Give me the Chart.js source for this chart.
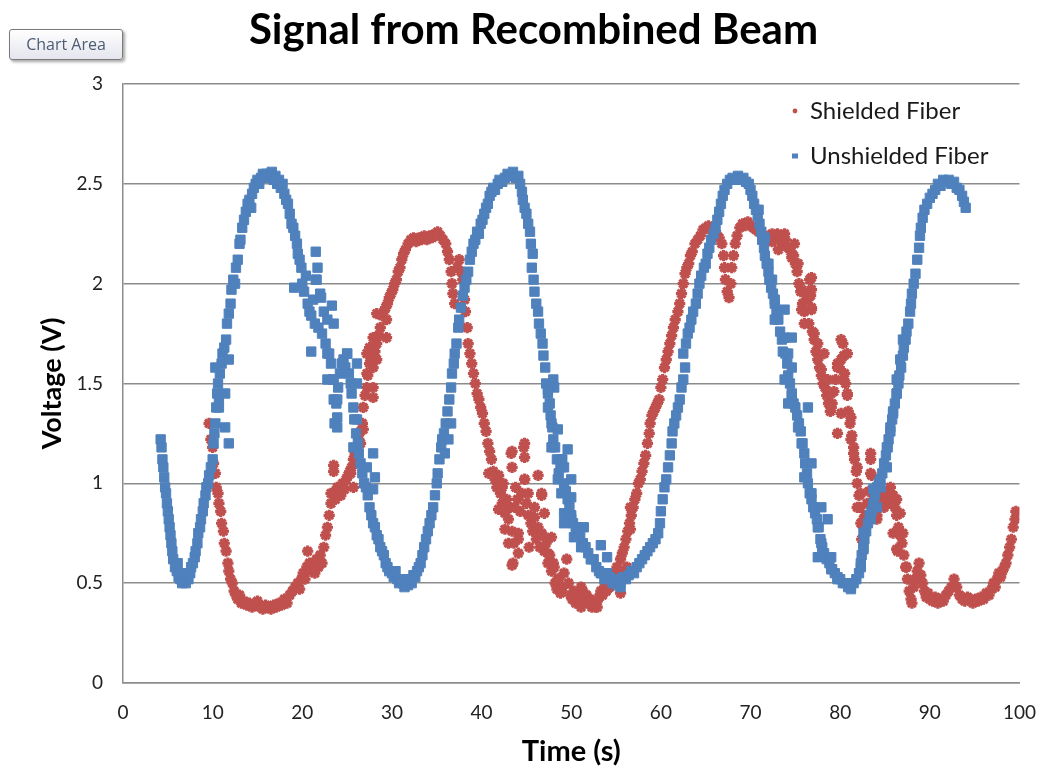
<!DOCTYPE html>
<html>
<head>
<meta charset="utf-8">
<script src="https://cdn.jsdelivr.net/npm/chart.js@4.4.1/dist/chart.umd.min.js"></script>
<style>
  html, body { margin: 0; padding: 0; background: #fff; }
  #wrap { position: relative; width: 1054px; height: 772px; }
  #tip {
    position: absolute; left: 9px; top: 29px; width: 112px; height: 29px;
    border: 1px solid #7a7a7a; border-radius: 3px;
    background: linear-gradient(#ffffff, #e4e5ee);
    box-shadow: 2px 2px 3px rgba(0,0,0,0.35);
    font: 16px "Open Sans", sans-serif; color: #4d5c73;
    line-height: 29px; text-align: center;
  }
</style>
</head>
<body>
<div id="wrap">
  <canvas id="myChart" width="1054" height="772"></canvas>
  <div id="tip">Chart Area</div>
</div>
<script>
// [time (s), voltage (V)]
const unshielded = [
  [4.2,1.22],[4.3,1.18],[4.4,1.12],[4.5,1.08],[4.6,1.03],[4.7,0.98],[4.8,0.95],[4.9,0.9],[5.0,0.86],[5.1,0.82],
  [5.2,0.78],[5.3,0.74],[5.4,0.7],[5.5,0.66],[5.6,0.62],[5.8,0.58],[6.0,0.56],[6.1,0.6],[6.2,0.53],[6.4,0.52],
  [6.5,0.55],[6.6,0.5],[6.8,0.51],[7.0,0.5],[7.1,0.54],[7.3,0.52],[7.5,0.55],[7.6,0.58],[7.8,0.6],[8.0,0.63],
  [8.1,0.66],[8.3,0.7],[8.4,0.75],[8.6,0.78],[8.7,0.82],[8.9,0.86],[9.0,0.9],[9.2,0.94],[9.3,0.98],[9.5,1.0],
  [9.6,1.04],[9.8,1.08],[10.0,1.12],[10.1,1.2],[10.2,1.25],[10.3,1.3],[10.4,1.38],[10.5,1.45],[10.6,1.5],[10.7,1.42],
  [10.8,1.55],[11.0,1.6],[11.1,1.65],[11.3,1.68],[11.5,1.72],[11.6,1.8],[11.8,1.85],[12.0,1.9],[12.1,1.97],[12.3,2.02],
  [12.5,2.0],[12.6,2.08],[12.8,2.12],[13.0,2.2],[13.1,2.22],[13.3,2.28],[13.5,2.32],[13.7,2.36],[13.9,2.4],[14.1,2.42],
  [14.3,2.38],[14.4,2.45],[14.6,2.48],[14.8,2.5],[15.0,2.52],[15.2,2.5],[15.4,2.53],[15.6,2.55],[15.8,2.54],[16.0,2.55],
  [16.2,2.53],[16.4,2.55],[16.6,2.56],[16.8,2.52],[17.0,2.54],[17.2,2.5],[17.4,2.52],[17.6,2.48],[17.8,2.5],[18.0,2.45],
  [18.2,2.42],[18.4,2.4],[18.6,2.35],[18.8,2.3],[19.0,2.28],[19.2,2.24],[19.4,2.2],[19.5,2.15],[19.7,2.12],[19.9,2.08],
  [20.0,2.0],[20.2,1.96],[20.4,2.04],[20.6,1.9],[20.8,1.86],[21.0,1.84],[21.2,1.92],[21.4,1.8],[21.6,2.02],[21.8,1.78],
  [22.0,1.95],[22.2,1.75],[22.4,1.86],[22.6,1.7],[22.8,1.82],[23.0,1.65],[23.2,1.6],[23.4,1.52],[23.5,1.42],[23.6,1.3],
  [23.8,1.4],[24.0,1.48],[24.2,1.55],[24.4,1.6],[24.6,1.62],[24.8,1.58],[25.0,1.65],[25.2,1.55],[25.4,1.5],[25.5,1.45],
  [25.7,1.38],[25.8,1.32],[26.0,1.25],[26.2,1.2],[26.3,1.15],[26.5,1.1],[26.7,1.05],[26.9,1.0],[27.1,0.98],[27.3,0.94],
  [27.5,0.88],[27.7,0.84],[27.9,0.8],[28.1,0.78],[28.3,0.74],[28.5,0.72],[28.7,0.68],[28.9,0.66],[29.1,0.64],[29.3,0.6],
  [29.5,0.58],[29.7,0.56],[30.0,0.55],[30.2,0.53],[30.4,0.56],[30.6,0.52],[30.8,0.5],[31.0,0.52],[31.2,0.5],[31.4,0.48],
  [31.6,0.51],[31.8,0.49],[32.0,0.52],[32.2,0.5],[32.4,0.54],[32.6,0.53],[32.8,0.56],[33.0,0.58],[33.2,0.6],[33.4,0.64],
  [33.6,0.68],[33.8,0.72],[34.0,0.76],[34.2,0.8],[34.4,0.84],[34.6,0.88],[34.8,0.94],[35.0,1.0],[35.1,1.05],[35.3,1.12],
  [35.5,1.18],[35.6,1.22],[35.8,1.25],[36.0,1.3],[36.2,1.36],[36.4,1.42],[36.6,1.48],[36.7,1.55],[36.9,1.6],[37.0,1.65],
  [37.2,1.7],[37.4,1.78],[37.5,1.82],[37.7,1.88],[37.9,1.94],[38.1,1.98],[38.3,2.02],[38.5,2.06],[38.7,2.12],[38.9,2.16],
  [39.1,2.2],[39.3,2.22],[39.5,2.26],[39.7,2.25],[39.9,2.3],[40.1,2.32],[40.3,2.35],[40.5,2.38],[40.7,2.4],[40.9,2.44],
  [41.1,2.46],[41.3,2.48],[41.5,2.47],[41.8,2.5],[42.0,2.52],[42.3,2.51],[42.6,2.53],[42.9,2.55],[43.2,2.54],[43.5,2.56],
  [43.8,2.53],[44.1,2.54],[44.3,2.5],[44.5,2.46],[44.6,2.42],[44.8,2.38],[45.0,2.35],[45.2,2.3],[45.4,2.26],[45.5,2.2],
  [45.7,2.15],[45.6,2.08],[45.8,2.02],[45.9,1.96],[46.1,1.9],[46.3,1.86],[46.4,1.8],[46.6,1.75],[46.8,1.7],[46.9,1.64],
  [47.1,1.58],[47.2,1.5],[47.4,1.45],[47.6,1.4],[47.7,1.34],[48.0,1.52],[48.1,1.48],[47.9,1.28],[48.0,1.22],[48.2,1.18],
  [48.4,1.12],[48.6,1.05],[48.8,1.08],[49.0,1.12],[49.2,1.0],[49.4,0.96],[49.6,0.92],[49.8,0.88],[50.0,0.84],[50.2,0.8],
  [50.5,0.78],[50.8,0.76],[51.0,0.74],[51.3,0.7],[51.6,0.68],[51.9,0.65],[52.2,0.62],[52.5,0.62],[52.8,0.58],[53.1,0.56],
  [53.4,0.55],[53.7,0.52],[54.0,0.55],[54.3,0.53],[54.6,0.5],[54.9,0.52],[55.2,0.49],[55.5,0.5],[55.8,0.53],[56.1,0.52],
  [56.4,0.54],[56.7,0.56],[57.0,0.55],[57.3,0.58],[57.6,0.6],[57.9,0.62],[58.2,0.64],[58.5,0.66],[58.8,0.68],[59.1,0.7],
  [59.4,0.72],[59.7,0.75],[59.9,0.8],[60.0,0.86],[60.2,0.92],[60.4,0.98],[60.6,1.02],[60.8,1.08],[61.0,1.14],[61.2,1.2],
  [61.3,1.26],[61.5,1.3],[61.7,1.34],[61.9,1.38],[62.1,1.42],[62.3,1.48],[62.5,1.52],[62.7,1.58],[62.5,1.65],[62.8,1.7],
  [63.0,1.75],[63.2,1.78],[63.4,1.82],[63.6,1.86],[63.9,1.9],[64.1,1.95],[64.3,2.0],[64.5,2.04],[64.8,2.08],[65.0,2.1],
  [65.2,2.15],[65.4,2.18],[65.6,2.22],[65.9,2.25],[66.1,2.28],[66.3,2.32],[66.5,2.36],[66.7,2.4],[66.9,2.44],[67.1,2.47],
  [67.4,2.5],[67.7,2.52],[68.0,2.53],[68.3,2.52],[68.6,2.54],[68.9,2.52],[69.2,2.53],[69.5,2.51],[69.8,2.5],[70.0,2.47],
  [70.2,2.44],[70.4,2.4],[70.6,2.37],[70.8,2.34],[71.0,2.3],[71.2,2.26],[71.3,2.22],[71.5,2.18],[71.6,2.14],[71.8,2.1],
  [72.0,2.06],[72.1,2.02],[72.3,1.98],[72.5,1.95],[72.7,1.9],[72.9,1.86],[73.1,1.82],[73.3,1.76],[73.5,1.72],[73.6,1.66],
  [73.9,1.65],[74.1,1.6],[74.2,1.54],[74.4,1.5],[74.6,1.44],[74.8,1.4],[75.0,1.38],[75.2,1.34],[75.4,1.3],[75.6,1.26],
  [75.8,1.2],[76.0,1.15],[76.1,1.1],[76.3,1.05],[76.4,1.0],[76.6,0.95],[76.8,0.92],[77.0,0.88],[77.2,0.85],[77.4,0.82],
  [77.6,0.78],[77.8,0.72],[78.0,0.68],[78.2,0.65],[78.5,0.62],[78.8,0.6],[79.1,0.57],[79.4,0.55],[79.7,0.53],[80.0,0.52],
  [80.3,0.5],[80.6,0.5],[80.9,0.48],[81.2,0.47],[81.5,0.5],[81.8,0.52],[82.1,0.55],[82.3,0.6],[82.4,0.64],[82.6,0.68],
  [82.7,0.72],[82.9,0.76],[83.1,0.8],[83.3,0.84],[83.5,0.86],[83.7,0.9],[83.9,0.94],[84.1,0.98],[84.3,1.0],[84.5,1.02],
  [84.7,1.05],[84.9,1.1],[85.1,1.14],[85.3,1.18],[85.4,1.22],[85.6,1.26],[85.8,1.32],[85.9,1.36],[86.1,1.4],[86.3,1.45],
  [86.5,1.5],[86.6,1.54],[86.8,1.58],[87.0,1.64],[87.1,1.68],[87.3,1.72],[87.4,1.76],[87.6,1.8],[87.8,1.86],[87.9,1.9],
  [88.0,1.95],[88.2,2.0],[88.4,2.05],[88.6,2.12],[88.8,2.18],[88.9,2.24],[89.0,2.28],[89.2,2.33],[89.4,2.37],[89.7,2.4],
  [90.0,2.43],[90.3,2.45],[90.6,2.47],[90.9,2.5],[91.2,2.49],[91.5,2.52],[91.8,2.51],[92.1,2.52],[92.4,2.5],[92.7,2.51],
  [93.0,2.48],[93.3,2.47],[93.6,2.44],[93.8,2.41],[94.0,2.38],
  // scattered points off the main band
  [10.3,1.58],[11.8,1.62],[11.4,1.45],[10.7,1.38],[11.4,1.28],[11.8,1.2],
  [21.5,2.16],[21.7,2.08],[21.5,2.02],[19.1,1.98],[22.1,1.93],[23.3,1.89],[23.5,1.8],[21.0,1.66],[22.8,1.65],
  [25.0,1.65],[26.1,1.6],[22.8,1.52],[23.5,1.52],[26.1,1.5],[23.9,1.42],[23.9,1.33],[23.9,1.28],[26.1,1.32],
  [25.7,1.18],[27.9,1.15],[27.2,1.08],[28.1,1.03],[27.9,0.97],
  [35.9,1.15],[36.3,1.22],[36.6,1.3],
  [47.4,1.47],[47.4,1.38],[47.8,1.3],[48.5,1.27],[47.8,1.18],[49.6,1.17],[48.9,1.12],[49.2,1.08],[48.5,1.02],
  [50.0,1.02],[48.9,0.95],[50.0,0.93],[49.2,0.85],[50.0,0.82],[49.2,0.8],[51.4,0.78],[50.3,0.73],[53.3,0.69],
  [51.1,0.68],[52.2,0.62],[54.0,0.63],[53.3,0.55],[55.1,0.52],[55.5,0.48],
  [70.9,2.37],[71.6,2.23],[72.0,2.1],[72.4,2.02],[72.7,1.92],[73.8,1.87],[72.7,1.82],[73.8,1.73],[74.6,1.73],
  [74.2,1.65],[74.6,1.58],[73.8,1.52],[74.6,1.45],[74.2,1.4],[76.4,1.38],[75.3,1.28],[75.7,1.2],[76.8,1.1],
  [76.0,1.03],[76.8,0.95],[77.9,0.88],[77.5,0.78],[78.6,0.82],[77.9,0.7],[77.5,0.63],[79.0,0.63],[79.0,0.57],
  [79.7,0.52],[81.2,0.48],[82.3,0.58],[82.6,0.67],[82.6,0.75],[83.4,0.82],[84.1,0.88],[83.7,0.97],[84.5,0.98],
  [85.2,1.08],[85.2,1.18],[85.6,1.28],[85.9,1.35],[86.3,1.45],[86.3,1.52],[86.7,1.62],[87.0,1.72]
];

const shielded = [
  [9.6,1.3],[9.8,1.22],[10.0,1.18],[10.1,1.1],[10.3,1.05],[10.4,0.98],[10.6,0.95],[10.7,0.9],[10.9,0.86],[11.0,0.8],
  [11.2,0.76],[11.3,0.7],[11.5,0.66],[11.7,0.6],[11.8,0.56],[12.0,0.52],[12.2,0.5],[12.4,0.46],[12.6,0.44],[12.8,0.42],
  [13.0,0.44],[13.2,0.4],[13.5,0.41],[13.8,0.39],[14.1,0.4],[14.4,0.38],[14.7,0.39],[15.0,0.41],[15.3,0.38],[15.6,0.37],
  [15.9,0.39],[16.2,0.38],[16.5,0.37],[16.8,0.39],[17.1,0.38],[17.4,0.4],[17.7,0.39],[18.0,0.42],[18.3,0.4],[18.6,0.44],
  [18.9,0.46],[19.2,0.48],[19.5,0.5],[19.7,0.47],[19.9,0.52],[20.1,0.55],[20.3,0.52],[20.5,0.58],[20.6,0.66],[20.8,0.6],
  [21.0,0.56],[21.2,0.6],[21.4,0.55],[21.6,0.62],[21.8,0.58],[22.0,0.64],[22.2,0.6],[22.4,0.68],[22.6,0.74],[22.8,0.78],
  [23.0,0.84],[23.2,0.9],[23.4,0.95],[23.5,1.06],[23.7,0.92],[23.9,0.96],[24.1,0.98],[24.3,0.94],[24.5,1.0],[24.7,0.97],
  [24.9,1.02],[25.1,1.04],[25.3,1.06],[25.5,1.08],[25.7,1.12],[25.9,1.15],[26.1,1.18],[26.3,1.22],[26.5,1.26],[26.7,1.3],
  [26.8,1.38],[27.0,1.44],[27.2,1.48],[27.3,1.54],[27.5,1.6],[27.5,1.68],[27.7,1.62],[27.9,1.58],[28.1,1.66],[28.3,1.7],
  [28.5,1.74],[28.7,1.78],[28.9,1.84],[29.1,1.86],[29.3,1.88],[29.5,1.9],[29.7,1.93],[29.9,1.95],[30.1,1.97],[30.3,2.0],
  [30.5,2.02],[30.7,2.06],[30.9,2.08],[31.1,2.12],[31.3,2.15],[31.5,2.17],[31.8,2.2],[32.1,2.22],[32.4,2.23],[32.7,2.21],
  [33.0,2.23],[33.3,2.22],[33.6,2.24],[33.9,2.22],[34.2,2.24],[34.5,2.23],[34.8,2.25],[35.1,2.26],[35.4,2.24],[35.7,2.22],
  [36.0,2.2],[36.2,2.16],[36.4,2.12],[36.6,2.06],[36.7,2.0],[36.8,1.95],[37.0,1.9],[37.3,2.08],[37.5,2.12],[37.7,2.06],
  [37.9,2.02],[38.1,1.92],[38.2,1.86],[38.4,1.78],[38.5,1.7],[38.7,1.65],[38.9,1.6],[39.1,1.55],[39.3,1.5],[39.5,1.45],
  [39.7,1.42],[39.9,1.38],[40.1,1.35],[40.3,1.3],[40.5,1.26],[40.7,1.2],[40.9,1.16],[41.1,1.12],[41.3,1.06],[41.5,1.02],
  [41.7,0.98],[41.9,1.04],[42.1,0.95],[42.3,0.9],[42.4,1.0],[42.6,0.85],[42.8,0.92],[43.0,0.82],[43.2,0.88],[43.3,1.15],
  [43.4,0.76],[43.5,0.6],[43.6,0.7],[43.8,0.98],[44.0,0.92],[44.1,0.72],[44.3,0.86],[44.5,0.95],[44.7,1.18],[44.8,1.02],
  [45.0,0.9],[45.2,0.84],[45.3,0.68],[45.5,0.8],[45.7,0.76],[45.9,0.88],[46.1,0.72],[46.3,0.78],[46.5,0.68],[46.7,0.94],
  [46.8,0.74],[47.0,0.66],[47.2,0.7],[47.4,0.6],[47.6,0.64],[47.8,0.56],[48.0,0.6],[48.2,0.5],[48.4,0.47],[48.6,0.52],
  [48.8,0.45],[49.0,0.48],[49.2,0.55],[49.5,0.62],[49.7,0.5],[49.9,0.44],[50.1,0.42],[50.3,0.46],[50.5,0.4],[50.7,0.42],
  [50.9,0.44],[51.1,0.48],[51.3,0.46],[51.5,0.42],[51.7,0.44],[51.9,0.4],[52.1,0.42],[52.3,0.38],[52.5,0.4],[52.7,0.38],
  [52.9,0.41],[53.1,0.43],[53.3,0.46],[53.5,0.44],[53.7,0.48],[53.9,0.46],[54.1,0.5],[54.3,0.48],[54.5,0.52],[54.7,0.5],
  [54.9,0.55],[55.1,0.58],[55.3,0.56],[55.5,0.62],[55.7,0.65],[55.9,0.68],[56.1,0.72],[56.3,0.76],[56.5,0.8],[56.7,0.84],
  [56.9,0.88],[57.1,0.92],[57.3,0.95],[57.5,1.0],[57.7,1.02],[57.9,1.06],[58.1,1.1],[58.3,1.14],[58.5,1.2],[58.7,1.25],
  [58.8,1.3],[59.0,1.34],[59.2,1.36],[59.4,1.38],[59.6,1.4],[59.8,1.42],[60.0,1.48],[60.2,1.52],[60.4,1.58],[60.6,1.62],
  [60.8,1.66],[61.0,1.7],[61.2,1.74],[61.4,1.78],[61.6,1.82],[61.9,1.86],[62.1,1.9],[62.3,1.95],[62.5,2.0],[62.7,2.05],
  [62.9,2.08],[63.1,2.1],[63.3,2.14],[63.5,2.16],[63.8,2.2],[64.1,2.22],[64.4,2.24],[64.7,2.27],[65.0,2.28],[65.3,2.29],
  [65.6,2.27],[65.9,2.26],[66.2,2.25],[66.5,2.23],[66.8,2.2],[67.0,2.14],[67.1,2.08],[67.2,2.02],[67.4,1.96],[67.6,1.93],
  [67.8,2.0],[67.9,2.08],[68.1,2.14],[68.3,2.2],[68.5,2.24],[68.8,2.28],[69.1,2.3],[69.4,2.29],[69.7,2.31],[70.0,2.29],
  [70.3,2.28],[70.6,2.27],[70.9,2.26],[71.2,2.25],[71.5,2.24],[71.8,2.22],[72.1,2.24],[72.4,2.21],[72.7,2.23],[73.0,2.25],
  [73.3,2.22],[73.6,2.2],[73.9,2.22],[74.2,2.18],[74.5,2.16],[74.8,2.14],[75.0,2.1],[75.2,2.06],[75.4,2.0],[75.6,1.96],
  [75.8,1.9],[76.0,1.86],[76.2,1.92],[76.4,1.96],[76.6,2.02],[76.7,1.94],[76.8,1.88],[76.5,1.8],[76.9,1.76],[77.1,1.72],
  [77.3,1.66],[77.5,1.62],[77.7,1.58],[77.9,1.54],[78.1,1.5],[78.3,1.48],[78.5,1.44],[78.7,1.4],[78.9,1.36],[79.1,1.4],
  [79.3,1.46],[79.5,1.52],[79.7,1.6],[79.9,1.58],[80.1,1.62],[80.3,1.7],[80.4,1.64],[80.5,1.55],[80.6,1.5],[80.8,1.44],
  [80.9,1.36],[81.1,1.3],[81.3,1.24],[81.5,1.18],[81.6,1.12],[81.8,1.06],[81.9,1.0],[82.1,0.94],[82.2,0.88],[82.3,0.8],
  [82.4,0.72],[82.6,0.78],[82.8,0.84],[83.0,0.9],[83.2,0.96],[83.4,1.12],[83.5,1.04],[83.7,0.92],[83.9,0.86],[84.1,0.84],
  [84.3,0.9],[84.5,0.96],[84.7,0.92],[84.9,0.88],[85.1,0.94],[85.3,0.92],[85.5,0.96],[85.7,0.9],[85.9,0.94],[86.1,0.88],
  [86.3,0.84],[86.4,0.66],[86.5,0.78],[86.7,0.74],[86.9,0.7],[87.1,0.64],[87.3,0.58],[87.5,0.52],[87.7,0.46],[87.9,0.42],
  [88.0,0.4],[88.2,0.48],[88.4,0.52],[88.6,0.56],[88.8,0.6],[89.0,0.54],[89.2,0.5],[89.4,0.46],[89.6,0.43],[89.8,0.45],
  [90.0,0.42],[90.3,0.41],[90.6,0.43],[90.9,0.4],[91.2,0.42],[91.5,0.41],[91.8,0.44],[92.1,0.46],[92.4,0.48],[92.7,0.52],
  [93.0,0.48],[93.3,0.44],[93.6,0.42],[93.9,0.41],[94.2,0.43],[94.5,0.42],[94.8,0.4],[95.1,0.42],[95.4,0.41],[95.7,0.43],
  [96.0,0.42],[96.3,0.45],[96.6,0.44],[96.9,0.47],[97.1,0.5],[97.3,0.48],[97.5,0.52],[97.7,0.55],[97.9,0.53],[98.1,0.56],
  [98.3,0.58],[98.5,0.6],[98.7,0.64],[98.9,0.68],[99.1,0.72],[99.3,0.78],[99.5,0.82],[99.6,0.86],
  // scattered points off the main band
  [28.3,1.85],[29.4,1.82],[27.9,1.73],[29.4,1.73],[27.2,1.65],[28.3,1.62],[27.2,1.55],[27.9,1.48],[27.9,1.43],
  [26.8,1.27],[26.5,1.2],[23.5,1.09],[25.4,1.05],[23.9,0.98],[25.7,0.98],[23.2,0.95],
  [44.8,1.2],[43.4,1.16],[44.8,1.13],[43.4,1.08],[46.3,1.04],[40.8,1.05],[42.3,0.98],[44.8,1.02],[45.2,0.95],
  [46.7,0.95],[41.9,0.87],[43.7,0.88],[45.9,0.83],[47.0,0.85],[42.6,0.77],[44.1,0.75],[46.7,0.75],[47.8,0.73],
  [43.0,0.7],[44.1,0.65],[43.4,0.59],[47.4,0.65],[48.1,0.58],[48.5,0.52],[48.9,0.47],[50.3,0.45],[51.1,0.38],
  [52.9,0.38],[54.0,0.47],[55.5,0.45],[56.2,0.58],[56.6,0.77],[56.6,0.88],
  [72.4,2.25],[73.8,2.25],[74.9,2.2],[73.1,2.17],[74.6,2.13],[75.3,2.1],[76.8,2.03],[75.7,1.97],[76.8,1.97],
  [76.4,1.92],[75.7,1.87],[76.8,1.87],[76.0,1.8],[77.1,1.75],[77.5,1.7],[80.1,1.72],[78.2,1.65],[80.8,1.65],
  [77.9,1.57],[79.7,1.58],[78.6,1.52],[80.4,1.52],[79.0,1.45],[80.8,1.45],[79.0,1.38],[80.1,1.35],[81.2,1.33],
  [79.7,1.25],[81.2,1.22],[81.5,1.15],[81.9,1.08],[83.4,1.15],[83.4,1.05],[82.3,0.95],[81.9,0.88],[82.6,0.82],
  [84.1,0.82],[85.6,0.98],[86.3,0.92],[86.7,0.85],[85.9,0.75],[86.3,0.67],[87.0,0.75],[87.4,0.58]
];

const seriesNames = ["Shielded Fiber", "Unshielded Fiber"];
const seriesColors = ["#C0504D", "#4F81BD"];
const xRange = [0, 100], xStep = 10;
const yRange = [0, 3], yStep = 0.5;

const toPoints = arr => arr.map(p => ({x: p[0], y: p[1]}));

// legend sits inside the plot, Excel style
const insideLegend = {
    id: "insideLegend",
    afterDraw(chart) {
        const ctx = chart.ctx;
        ctx.save();
        ctx.font = "24px Lato, sans-serif";
        ctx.textBaseline = "middle";
        seriesNames.forEach((name, i) => {
            const y = 111 + i * 45;
            ctx.fillStyle = seriesColors[i];
            if (i === 0) {
                ctx.beginPath();
                ctx.arc(795, y, 2.4, 0, Math.PI * 2);
                ctx.fill();
            } else {
                ctx.fillRect(792, y - 2.5, 6, 5);
            }
            ctx.fillStyle = "#1a1a1a";
            ctx.fillText(name, 810, y);
        });
        ctx.restore();
    }
};

const ctx = document.getElementById("myChart").getContext("2d");
new Chart(ctx, {
    type: "scatter",
    data: {
        datasets: [{
            label: seriesNames[1],
            data: toPoints(unshielded),
            pointStyle: "rect",
            pointRadius: 6.6,
            backgroundColor: seriesColors[1],
            borderColor: seriesColors[1],
            borderWidth: 1,
        }, {
            label: seriesNames[0],
            data: toPoints(shielded),
            pointStyle: "star",
            pointRadius: 5.6,
            backgroundColor: seriesColors[0],
            borderColor: seriesColors[0],
            borderWidth: 3.2,
        }],
    },
    options: {
        responsive: false,
        animation: false,
        layout: {padding: {left: 36, right: 23, top: 0, bottom: 0}},
        plugins: {
            legend: {display: false},
            tooltip: {enabled: false},
            title: {
                display: true,
                text: "Signal from Recombined Beam",
                color: "#000",
                font: {family: "Lato", size: 42, weight: "bold", lineHeight: 1.2},
                padding: {top: 5, bottom: 28.6},
            },
        },
        scales: {
            x: {
                type: "linear",
                min: xRange[0], max: xRange[1],
                ticks: {stepSize: xStep, padding: 18, color: "#222", font: {family: "Lato", size: 19}},
                grid: {display: false, drawTicks: false},
                border: {color: "#8c8c8c", width: 1.5},
                title: {
                    display: true, text: "Time (s)", color: "#000",
                    font: {family: "Lato", size: 29, weight: "bold", lineHeight: 1.2},
                    padding: {top: 0, bottom: 3},
                },
                afterFit(scale) { scale.height = 89; },
            },
            y: {
                min: yRange[0], max: yRange[1],
                ticks: {
                    stepSize: yStep, padding: 20, color: "#222", font: {family: "Lato", size: 19},
                    callback: v => String(v),
                },
                grid: {color: "#8c8c8c", lineWidth: 1.5, drawTicks: false},
                border: {color: "#8c8c8c", width: 1.5},
                title: {
                    display: true, text: "Voltage (V)", color: "#000",
                    font: {family: "Lato", size: 27, weight: "bold", lineHeight: 1.2},
                    padding: {top: 0, bottom: 0},
                },
                afterFit(scale) { scale.width = 87; },
            },
        },
    },
    plugins: [insideLegend],
});
</script>
</body>
</html>
